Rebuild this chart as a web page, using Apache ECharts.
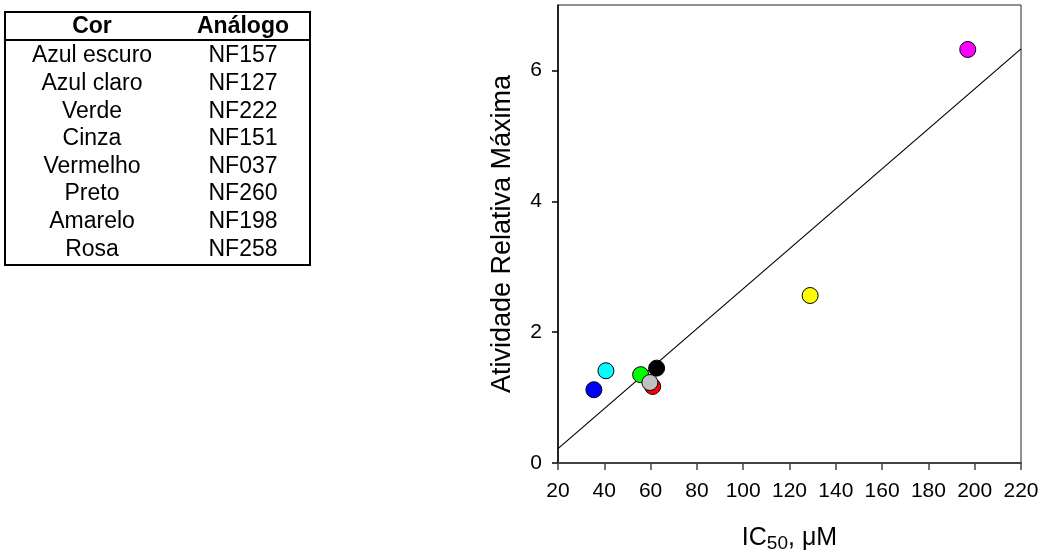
<!DOCTYPE html>
<html>
<head>
<meta charset="utf-8">
<script src="https://cdn.jsdelivr.net/npm/echarts@6/dist/echarts.min.js"></script>
<style>
  html, body { margin: 0; padding: 0; background: #fff; }
  #chart { width: 1040px; height: 552px; }
</style>
</head>
<body>
<div id="chart"></div>
<script>
// Colour key of the analogues (table rows, top to bottom)
const colorNames = ['Azul escuro', 'Azul claro', 'Verde', 'Cinza', 'Vermelho', 'Preto', 'Amarelo', 'Rosa'];
const analogues  = ['NF157', 'NF127', 'NF222', 'NF151', 'NF037', 'NF260', 'NF198', 'NF258'];
const pointColors = ['#0000ff', '#00ffff', '#00ff00', '#c0c0c0', '#ff0000', '#000000', '#ffff00', '#ff00ff'];

// IC50 (µM) and maximal relative activity of each analogue, same order as the table
const ic50        = [35.5, 40.7, 55.7, 59.7, 60.9, 62.6, 128.9, 197.0];
const maxActivity = [1.12, 1.41, 1.35, 1.23, 1.17, 1.45, 2.56, 6.32];

// Order in which the circles are painted (later ones sit on top)
const drawOrder = [0, 1, 2, 4, 5, 3, 6, 7];

// Linear fit, drawn across the whole x range
const fitLine = [[20, 0.22], [220, 6.33]];

// Axis ticks
const yTicks = [0, 2, 4, 6];

const FONT = '"Liberation Sans", Arial, Helvetica, sans-serif';

// Table of colours / analogue codes
const tableGraphics = [];
const tblLeft = 5, tblTop = 12, tblWidth = 305, tblHeight = 253, headerLine = 40;
const col1X = 92, col2X = 243, headerY = 27, rowTop = 56, rowStep = 27.6;
tableGraphics.push({
  type: 'rect',
  shape: { x: tblLeft, y: tblTop, width: tblWidth, height: tblHeight },
  style: { fill: 'none', stroke: '#000', lineWidth: 2 }
});
tableGraphics.push({
  type: 'line',
  shape: { x1: tblLeft, y1: headerLine, x2: tblLeft + tblWidth, y2: headerLine },
  style: { stroke: '#000', lineWidth: 2 }
});
[['Cor', col1X], ['Análogo', col2X]].forEach(([t, x]) => {
  tableGraphics.push({
    type: 'text', x: x, y: headerY,
    style: { text: t, align: 'center', verticalAlign: 'middle', fill: '#000',
             fontSize: 23, fontWeight: 'bold', fontFamily: FONT }
  });
});
colorNames.forEach((name, i) => {
  const y = rowTop + i * rowStep;
  tableGraphics.push({
    type: 'text', x: col1X, y: y,
    style: { text: name, align: 'center', verticalAlign: 'middle', fill: '#000', fontSize: 23, fontFamily: FONT }
  });
  tableGraphics.push({
    type: 'text', x: col2X, y: y,
    style: { text: analogues[i], align: 'center', verticalAlign: 'middle', fill: '#000', fontSize: 23, fontFamily: FONT }
  });
});

const points = drawOrder.map(i => ({
  name: analogues[i],
  value: [ic50[i], maxActivity[i]],
  itemStyle: { color: pointColors[i] }
}));

const chart = echarts.init(document.getElementById('chart'), null, { renderer: 'canvas' });
chart.setOption({
  animation: false,
  backgroundColor: '#fff',
  textStyle: { fontFamily: FONT, color: '#000' },
  graphic: tableGraphics,
  grid: {
    left: 558, right: 19, top: 5, bottom: 89,
    containLabel: false,
    outerBoundsMode: 'none',
    show: true, borderColor: '#222', borderWidth: 1, backgroundColor: 'transparent'
  },
  xAxis: {
    type: 'value', min: 20, max: 220, interval: 20,
    axisLine: { show: true, onZero: false, lineStyle: { color: '#444', width: 2 } },
    axisTick: { show: true, inside: false, length: 7, lineStyle: { color: '#444', width: 1.5 } },
    axisLabel: { fontSize: 21, color: '#000', margin: 18, fontFamily: FONT },
    splitLine: { show: false },
    name: '{a|IC}{s|50}{a|, μM}',
    nameLocation: 'middle',
    nameGap: 60,
    nameTextStyle: {
      rich: {
        a: { fontSize: 25, lineHeight: 30, color: '#000', fontFamily: FONT },
        s: { fontSize: 19, lineHeight: 12, color: '#000', fontFamily: FONT, verticalAlign: 'bottom' }
      }
    }
  },
  yAxis: {
    type: 'value', min: 0, max: 7, interval: 2,
    axisLine: { show: true, onZero: false, lineStyle: { color: '#000', width: 1.5 } },
    axisTick: { show: true, inside: false, length: 6, customValues: yTicks, lineStyle: { color: '#000', width: 1.5 } },
    axisLabel: { fontSize: 21, color: '#000', margin: 16, customValues: yTicks, fontFamily: FONT },
    splitLine: { show: false },
    name: 'Atividade Relativa Máxima',
    nameLocation: 'middle',
    nameGap: 42,
    nameTextStyle: { fontSize: 27, color: '#000', fontFamily: FONT }
  },
  series: [
    {
      type: 'line',
      data: fitLine,
      symbol: 'none',
      lineStyle: { color: '#000', width: 1.2 },
      silent: true,
      z: 2
    },
    {
      type: 'scatter',
      data: points,
      symbol: 'circle',
      symbolSize: 16,
      itemStyle: { borderColor: '#000', borderWidth: 1, opacity: 1 },
      z: 3
    }
  ]
});
</script>
</body>
</html>
